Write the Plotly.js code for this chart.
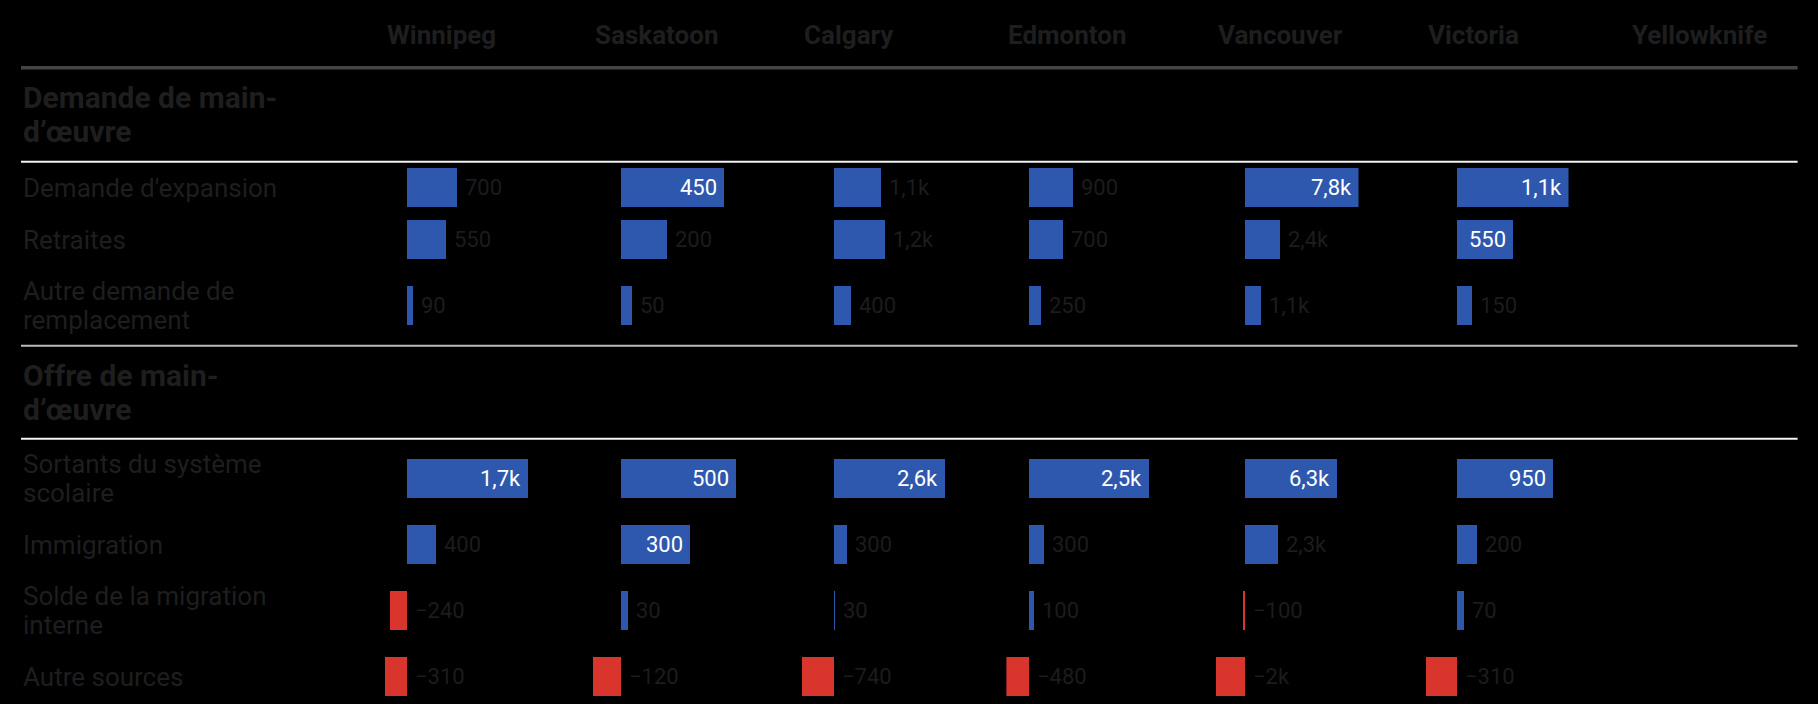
<!DOCTYPE html>
<html>
<head>
<meta charset="utf-8">
<script src="https://cdn.plot.ly/plotly-3.0.1.min.js"></script>
<style>
  html, body { margin: 0; padding: 0; background: #000; }
  #chart { width: 1818px; height: 704px; }
</style>
</head>
<body>
<div id="chart"></div>
<script>
// ---------- DATA ----------
const cities = ['Winnipeg', 'Saskatoon', 'Calgary', 'Edmonton', 'Vancouver', 'Victoria', 'Yellowknife'];
const sectionTitles = ['Demande de main-<br>d’œuvre', 'Offre de main-<br>d’œuvre'];
const demandRows = ["Demande d'expansion", 'Retraites', 'Autre demande de<br>remplacement'];
const supplyRows = ['Sortants du système<br>scolaire', 'Immigration', 'Solde de la migration<br>interne', 'Autre sources'];

// values in row order: demand rows then supply rows
const winnipeg   = [700, 550, 90, 1700, 400, -240, -310];
const saskatoon  = [450, 200, 50, 500, 300, 30, -120];
const calgary    = [1100, 1200, 400, 2600, 300, 30, -740];
const edmonton   = [900, 700, 250, 2500, 300, 100, -480];
const vancouver  = [7800, 2400, 1100, 6300, 2300, -100, -2000];
const victoria   = [1100, 550, 150, 950, 200, 70, -310];
const yellowknife = [null, null, null, null, null, null, null];

const cityValues = [winnipeg, saskatoon, calgary, edmonton, vancouver, victoria, yellowknife];

// ---------- LAYOUT CONSTANTS ----------
const W = 1818, H = 704;
const colLeft = [385, 593, 802, 1006.4, 1215.5, 1425.5, 1630];
const colWidth = 143;
const tableLeft = 21, tableRight = 1797.6;
const headerY = 35;
const headerLineY = 67.7;
const sectionHeights = [94, 93];
const rowH1 = 52, rowH2 = 80;
const barHeight = 39.5;

const BLUE = '#2e58ae', RED = '#d9352c';
const TXT = '#1e1e1e';
const FONT = 'Roboto, "Open Sans", sans-serif';

// ---------- ROW POSITIONS ----------
const rows = [];
const sectionCenters = [];
const sectionLines = [];
const grayLines = [];
let cur = headerLineY;
const sections = [demandRows, supplyRows];
sections.forEach((labels, si) => {
  sectionCenters.push(cur + sectionHeights[si] / 2);
  cur += sectionHeights[si];
  sectionLines.push(cur);
  labels.forEach(lab => {
    const h = lab.includes('<br>') ? rowH2 : rowH1;
    rows.push({ label: lab, y: cur + h / 2 });
    cur += h;
  });
  if (si === 0) grayLines.push(cur);
});
const rowY = rows.map(r => r.y);

// ---------- FORMAT ----------
function fmt(v) {
  const a = Math.abs(v);
  let s;
  if (a >= 1000) {
    s = (a / 1000).toFixed(1).replace(/\.0$/, '') + 'k';
  } else {
    s = String(a);
  }
  s = s.replace('.', ',');
  return (v < 0 ? '\u2212' : '') + s;
}

// ---------- TRACES / AXES ----------
const traces = [];
const annotations = [];
const layout = {
  width: W, height: H,
  margin: { l: 0, r: 0, t: 0, b: 0, pad: 0 },
  paper_bgcolor: '#000',
  plot_bgcolor: 'rgba(0,0,0,0)',
  showlegend: false,
  font: { family: FONT, color: TXT },
  yaxis: { range: [H, 0], domain: [0, 1], visible: false, fixedrange: true },
  bargap: 0,
  shapes: [],
  annotations: annotations
};

cities.forEach((city, ci) => {
  const axName = ci === 0 ? 'xaxis' : 'xaxis' + (ci + 1);
  const axRef = ci === 0 ? 'x' : 'x' + (ci + 1);
  const vals = cityValues[ci];
  const valid = vals.filter(v => v !== null);
  const mn = Math.min(0, ...valid);
  const mx = valid.length ? Math.max(0, ...valid) : 1;
  layout[axName] = {
    domain: [colLeft[ci] / W, (colLeft[ci] + colWidth) / W],
    range: [mn, mx],
    anchor: 'y',
    visible: false,
    fixedrange: true
  };
  annotations.push({
    xref: 'paper', yref: 'y', x: colLeft[ci] / W, y: headerY,
    xanchor: 'left', yanchor: 'middle', showarrow: false,
    text: city, font: { family: FONT, size: 26, weight: 700, color: TXT }
  });
  if (!valid.length) return;
  traces.push({
    type: 'bar', orientation: 'h',
    x: vals, y: rowY, width: barHeight,
    xaxis: axRef, yaxis: 'y',
    marker: { color: vals.map(v => v < 0 ? RED : BLUE), line: { width: 0 } },
    hoverinfo: 'skip'
  });
  const span = mx - mn;
  vals.forEach((v, ri) => {
    if (v === null) return;
    const inside = v > 0 && v / span > 0.375;
    annotations.push({
      xref: axRef, yref: 'y',
      x: inside ? v : Math.max(v, 0), y: rowY[ri],
      xanchor: inside ? 'right' : 'left', yanchor: 'middle',
      xshift: inside ? -5 : 6,
      showarrow: false, text: fmt(v),
      font: { family: FONT, size: 22, color: inside ? '#ffffff' : '#1c1c1c' }
    });
  });
});

// multi-line text helper (each line separately for tight line spacing)
function textLines(str, yc, lh, font) {
  const lines = str.split('<br>');
  lines.forEach((ln, li) => {
    annotations.push({
      xref: 'paper', yref: 'y', x: tableLeft / W, y: yc + (li - (lines.length - 1) / 2) * lh,
      xanchor: 'left', yanchor: 'middle', showarrow: false,
      text: ln, font: font
    });
  });
}

rows.forEach(r => textLines(r.label, r.y, 29, { family: FONT, size: 26, color: TXT }));
sectionTitles.forEach((t, si) => textLines(t, sectionCenters[si], 34, { family: FONT, size: 30, weight: 700, color: TXT }));

// lines
function hline(y, color, w) {
  layout.shapes.push({
    type: 'line', xref: 'paper', yref: 'y',
    x0: tableLeft / W, x1: tableRight / W, y0: y, y1: y,
    line: { color: color, width: w }
  });
}
hline(headerLineY, '#444444', 3.5);
sectionLines.forEach(y => hline(y, '#f2f2f2', 2));
grayLines.forEach(y => hline(y, '#bdbdbd', 2));

Plotly.newPlot('chart', traces, layout, { staticPlot: true, displayModeBar: false });
</script>
</body>
</html>
